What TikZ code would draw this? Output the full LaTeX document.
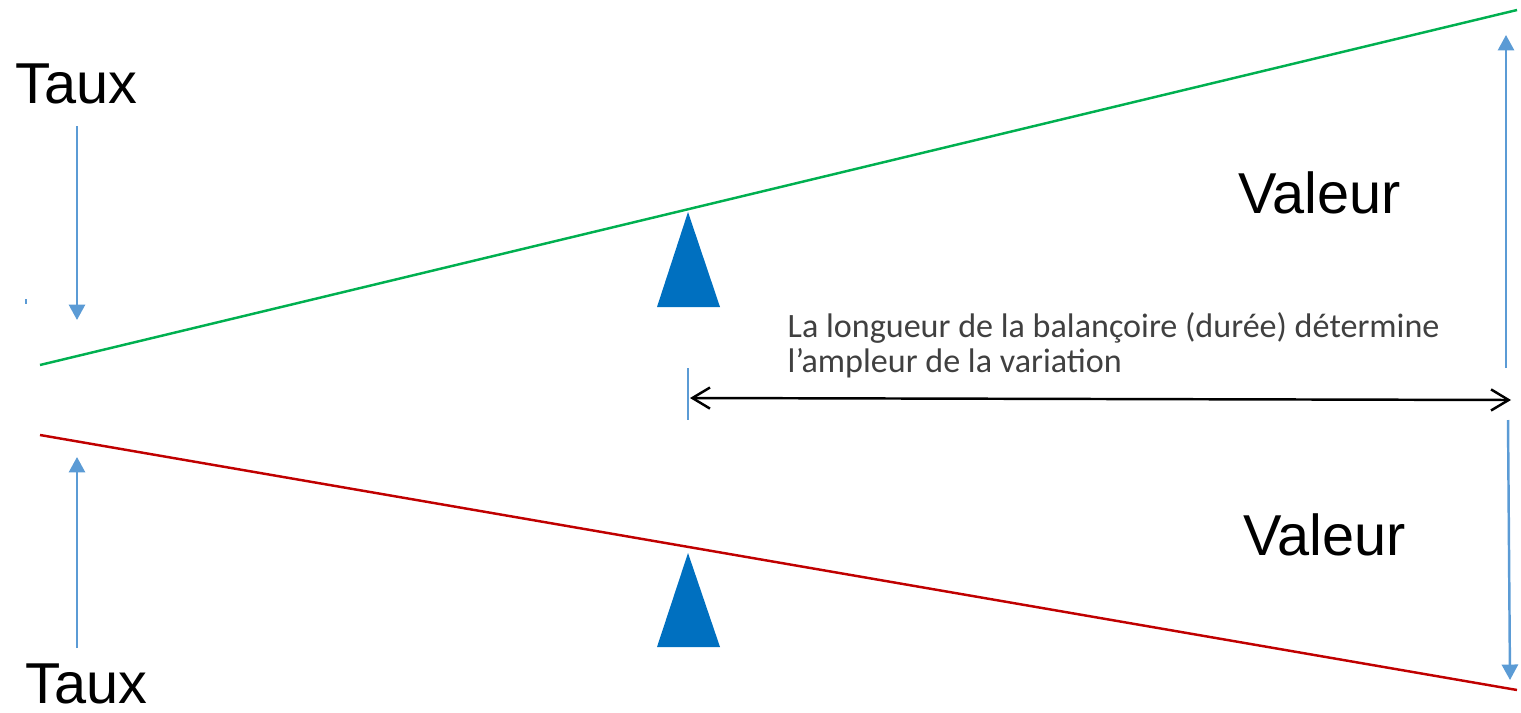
\documentclass[tikz,border=0pt]{standalone}
\usepackage{fontspec}
\setmainfont{Liberation Sans}
\newfontfamily\notefont{Carlito}
\usetikzlibrary{arrows.meta}
\definecolor{beamgreen}{HTML}{00B050}
\definecolor{beamred}{HTML}{C00000}
\definecolor{pivotblue}{HTML}{0070C0}
\definecolor{arrowblue}{HTML}{5B9BD5}
\definecolor{notegray}{HTML}{404040}
\begin{document}
\begin{tikzpicture}[x=0.01cm, y=-0.01cm,
  biglabel/.style={font=\fontsize{16.4}{18}\selectfont, inner sep=0pt, anchor=base west},
  beam/.style={line width=0.7pt},
  pivot/.style={fill=pivotblue},
  rate/.style={arrowblue, line width=0.7pt, -{Triangle[width=4.6pt, length=4.4pt]}},
  span/.style={line width=0.7pt, {Straight Barb[length=5pt, width=6pt]}-{Straight Barb[length=5pt, width=6pt]}}]
  \useasboundingbox (0,0) rectangle (1521,712);
  % Two seesaw beams:  green rises, red falls
  \coordinate (gL) at (40,365);  \coordinate (gR) at (1517,10);
  \coordinate (rL) at (40,435);  \coordinate (rR) at (1517,690);
  \draw[beam, beamgreen] (gL) -- (gR);
  \draw[beam, beamred] (rL) -- (rR);
  % Pivots
  \fill[pivot] (688,212) -- (720,307) -- (657,307) -- cycle;
  \fill[pivot] (688,553) -- (720,647) -- (657,647) -- cycle;
  % Labels
  \node[biglabel] (tauxTop) at (15,103) {Taux};
  \node[biglabel] (tauxBot) at (25,703) {Taux};
  \node[biglabel] (valTop) at (1238,213) {Valeur};
  \node[biglabel] (valBot) at (1243,555) {Valeur};
  \node[inner sep=0pt, anchor=north west, align=left, text=notegray,
    font=\notefont\fontsize{9.7}{10}\selectfont] (note) at (787,312)
    {La longueur de la balançoire (durée) détermine\\l’ampleur de la variation};
  % Rate arrows (left) and value arrows (right)
  \coordinate (tA) at (77,126);   \coordinate (tB) at (77,320);
  \coordinate (bA) at (77,648);   \coordinate (bB) at (77,457);
  \coordinate (vA) at (1506,368); \coordinate (vB) at (1506,35);
  \coordinate (wA) at (1508,420); \coordinate (wB) at (1510,680);
  \draw[rate] (tA) -- (tB);
  \draw[rate] (bA) -- (bB);
  \draw[rate] (vA) -- (vB);
  \draw[rate] (wA) -- (wB);
  % Span of the beam
  \coordinate (tick1) at (688,368); \coordinate (tick2) at (688,420);
  \draw[arrowblue, line width=0.7pt] (tick1) -- (tick2);
  \coordinate (sA) at (690,398);  \coordinate (sB) at (1511,400);
  \draw[span] (sA) -- (sB);
  \draw[arrowblue, line width=0.4pt] (26,299) -- (26,304);
\end{tikzpicture}
\end{document}
